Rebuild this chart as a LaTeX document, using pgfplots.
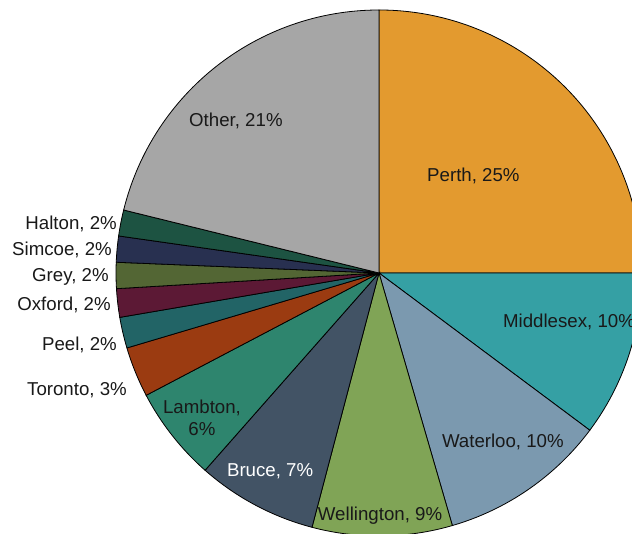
\documentclass[border=0pt]{standalone}
\usepackage{pgfplots}
\usepackage{pgfplotstable}
\pgfplotsset{compat=1.18}
\usepackage{fontspec}
\setmainfont{Liberation Sans}

% slices clockwise from 12 o'clock: share in percent, fill colour
\pgfplotstableread{
name       value  col
Perth      25.00  E39A2F
Middlesex  10.20  35A0A4
Waterloo   10.30  7B99AF
Wellington  8.60  80A456
Bruce       7.40  425365
Lambton     5.80  2E856E
Toronto     3.10  9B3B11
Peel        1.90  226466
Oxford      1.75  5C1935
Grey        1.60  536634
Simcoe      1.60  283050
Halton      1.60  1D5342
Other      21.15  A6A6A6
}\piedata

\pgfplotstablegetrowsof{\piedata}
\pgfmathtruncatemacro\lastrow{\pgfplotsretval-1}
\def\cum{0}
\pgfplotsforeachungrouped \i in {0,...,\lastrow}{%
  \pgfplotstablegetelem{\i}{value}\of\piedata \let\v\pgfplotsretval
  \pgfplotstablegetelem{\i}{col}\of\piedata \let\c\pgfplotsretval
  \definecolor{pie\i}{HTML}{\c}%
  \pgfmathsetmacro\sa{90-3.6*\cum}%
  \pgfmathsetmacro\cum{\cum+\v}%
  \pgfmathsetmacro\ea{90-3.6*\cum}%
  \expandafter\xdef\csname pieS\i\endcsname{\sa}%
  \expandafter\xdef\csname pieE\i\endcsname{\ea}%
}

\def\R{197.25pt}

\begin{document}
\begin{tikzpicture}[font=\fontsize{14}{16.5}\selectfont]
\begin{axis}[
  x=197.25pt, y=197.25pt,
  xmin=-1.441, xmax=0.962,
  ymin=-0.989, ymax=1.038,
  hide axis, clip=true,
]
\pgfplotsinvokeforeach{0,...,12}{
  \filldraw[fill=pie#1, draw=black, line width=0.6pt]
    (axis cs:0,0) -- +(\csname pieS#1\endcsname:\R)
    arc[start angle=\csname pieS#1\endcsname, end angle=\csname pieE#1\endcsname, radius=\R] -- cycle;
}
\begin{scope}[every node/.style={inner sep=0pt, text=black!90}]
\node at (axis cs:-0.544,0.578) {Other, 21\%};
\node at (axis cs:0.359,0.369) {Perth, 25\%};
\node[anchor=west] at (axis cs:0.471,-0.186) {Middlesex, 10\%};
\node at (axis cs:0.471,-0.643) {Waterloo, 10\%};
\node at (axis cs:0.004,-0.924) {Wellington, 9\%};
\node[text=white] at (axis cs:-0.414,-0.753) {Bruce, 7\%};
\node[align=center] at (axis cs:-0.673,-0.551) {Lambton,\\6\%};
\node[anchor=east] at (axis cs:-0.958,-0.447) {Toronto, 3\%};
\node[anchor=east] at (axis cs:-0.996,-0.274) {Peel, 2\%};
\node[anchor=east] at (axis cs:-1.019,-0.122) {Oxford, 2\%};
\node[anchor=east] at (axis cs:-1.027,-0.015) {Grey, 2\%};
\node[anchor=east] at (axis cs:-1.015,0.087) {Simcoe, 2\%};
\node[anchor=east] at (axis cs:-0.996,0.186) {Halton, 2\%};
\end{scope}
\end{axis}
\pgfresetboundingbox
\useasboundingbox (current axis.south west) rectangle (current axis.north east);
\end{tikzpicture}
\end{document}
